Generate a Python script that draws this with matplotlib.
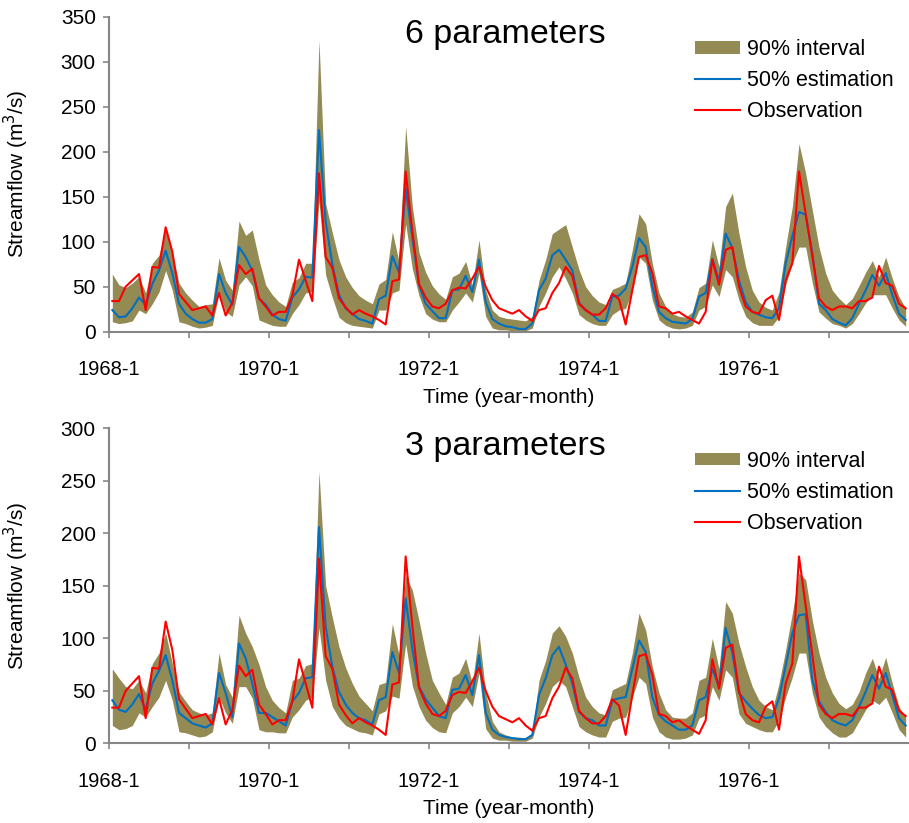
import matplotlib
matplotlib.use('Agg')
import matplotlib.pyplot as plt
import numpy as np

plt.rcParams['font.family'] = ['Liberation Sans', 'DejaVu Sans']

# monthly streamflow 1968-1 .. 1977-12 (m3/s)
obs = [34, 34, 50, 57, 64, 24, 72, 71, 116, 89,
       42, 33, 24, 26, 28, 18, 43, 18, 32, 74,
       64, 70, 37, 28, 18, 22, 22, 40, 80, 57,
       34, 176, 83, 71, 37, 27, 19, 24, 20, 17,
       13, 8, 56, 58, 178, 112, 53, 38, 28, 26,
       31, 46, 49, 48, 59, 72, 50, 35, 26, 23,
       20, 24, 17, 12, 24, 26, 43, 54, 72, 62,
       31, 24, 19, 19, 26, 42, 36, 8, 46, 83,
       85, 65, 28, 26, 20, 22, 17, 13, 9, 22,
       80, 52, 91, 94, 50, 28, 22, 20, 35, 40,
       13, 57, 76, 178, 131, 84, 37, 28, 24, 28,
       28, 26, 34, 34, 38, 73, 54, 51, 31, 26]

# 6 parameters
med6 = [24, 16, 17, 26, 38, 30, 53, 68, 90, 65,
        31, 20, 14, 10, 10, 14, 64, 43, 30, 94,
        83, 68, 37, 30, 19, 14, 12, 38, 47, 61,
        60, 224, 122, 75, 41, 26, 20, 14, 12, 9,
        36, 40, 84, 66, 159, 105, 52, 31, 23, 15,
        15, 46, 47, 62, 44, 80, 33, 14, 9, 6,
        5, 3, 3, 9, 46, 59, 85, 91, 80, 68,
        32, 24, 19, 12, 12, 39, 40, 48, 72, 104,
        94, 50, 22, 15, 11, 10, 9, 14, 39, 43,
        81, 56, 109, 93, 57, 33, 22, 19, 16, 15,
        26, 76, 106, 133, 130, 87, 31, 24, 14, 10,
        7, 15, 31, 46, 63, 51, 65, 41, 20, 13]
hi6 = [64, 52, 49, 54, 61, 43, 76, 85, 113, 87,
       54, 43, 35, 28, 30, 31, 82, 57, 46, 123,
       107, 113, 80, 52, 41, 33, 28, 55, 60, 76,
       76, 324, 142, 110, 80, 61, 49, 40, 35, 31,
       53, 58, 111, 78, 228, 139, 88, 66, 51, 42,
       36, 61, 65, 78, 52, 102, 46, 24, 17, 15,
       14, 13, 12, 17, 57, 80, 109, 114, 119, 94,
       69, 50, 40, 33, 30, 47, 50, 54, 91, 131,
       120, 76, 43, 28, 20, 17, 16, 22, 49, 54,
       102, 72, 139, 154, 109, 72, 46, 33, 27, 24,
       44, 94, 139, 209, 176, 135, 94, 65, 46, 37,
       30, 37, 51, 66, 79, 61, 83, 59, 39, 26]
lo6 = [11, 9, 10, 12, 24, 20, 31, 44, 68, 46,
       11, 9, 6, 4, 5, 7, 43, 22, 17, 52,
       61, 51, 13, 10, 7, 6, 6, 20, 30, 43,
       45, 145, 63, 38, 16, 10, 7, 6, 5, 4,
       24, 24, 43, 46, 120, 70, 40, 20, 14, 11,
       11, 24, 33, 43, 33, 65, 17, 4, 2, 2,
       1, 1, 1, 4, 28, 43, 61, 72, 59, 43,
       19, 13, 9, 7, 7, 19, 24, 26, 46, 83,
       76, 35, 13, 7, 4, 3, 4, 7, 24, 28,
       52, 39, 69, 61, 35, 17, 10, 7, 7, 7,
       17, 52, 76, 94, 94, 54, 22, 15, 9, 7,
       4, 9, 20, 32, 41, 41, 41, 26, 13, 6]

# 3 parameters
med3 = [41, 32, 30, 37, 47, 32, 57, 69, 84, 60,
        29, 24, 19, 17, 15, 19, 67, 48, 25, 95,
        81, 57, 29, 29, 25, 21, 17, 40, 48, 62,
        63, 206, 111, 73, 49, 37, 29, 24, 22, 18,
        41, 44, 87, 67, 138, 90, 54, 42, 34, 26,
        24, 51, 52, 65, 46, 84, 29, 13, 8, 6,
        5, 4, 4, 8, 46, 62, 84, 92, 75, 57,
        30, 24, 22, 17, 17, 41, 43, 44, 71, 98,
        87, 44, 27, 21, 17, 13, 13, 17, 41, 44,
        71, 54, 110, 86, 48, 40, 33, 27, 24, 25,
        43, 74, 105, 122, 123, 60, 40, 30, 22, 19,
        17, 22, 35, 49, 65, 52, 67, 46, 24, 17]
hi3 = [71, 62, 54, 52, 60, 48, 76, 86, 105, 76,
       49, 40, 32, 29, 27, 29, 86, 56, 44, 122,
       105, 92, 75, 54, 41, 34, 29, 60, 62, 74,
       76, 259, 150, 120, 92, 72, 57, 45, 38, 31,
       56, 58, 114, 84, 160, 146, 117, 86, 60, 48,
       37, 63, 67, 81, 57, 105, 48, 21, 11, 8,
       6, 6, 5, 10, 60, 79, 105, 112, 102, 86,
       63, 44, 35, 29, 27, 51, 54, 57, 86, 124,
       108, 73, 48, 32, 25, 24, 24, 29, 60, 63,
       100, 71, 135, 124, 95, 73, 54, 41, 35, 32,
       57, 89, 124, 162, 156, 117, 86, 63, 48, 38,
       33, 37, 49, 67, 81, 62, 82, 57, 35, 25]
lo3 = [17, 13, 14, 17, 29, 25, 35, 44, 60, 41,
       11, 10, 8, 6, 7, 11, 44, 29, 19, 54,
       54, 43, 13, 11, 11, 10, 10, 25, 32, 41,
       44, 110, 60, 35, 24, 17, 14, 11, 10, 8,
       28, 31, 45, 43, 95, 55, 35, 22, 15, 11,
       10, 29, 35, 44, 35, 67, 14, 5, 3, 3,
       2, 2, 2, 5, 25, 38, 54, 60, 54, 35,
       16, 11, 8, 6, 6, 21, 24, 25, 44, 63,
       57, 25, 11, 6, 4, 4, 5, 8, 24, 27,
       54, 41, 70, 63, 28, 19, 16, 13, 11, 11,
       22, 44, 63, 86, 86, 48, 25, 16, 10, 6,
       6, 10, 21, 32, 41, 37, 44, 29, 13, 6]

tick_labels = ['1968-1', '1970-1', '1972-1', '1974-1', '1976-1']

band_c = '#948A54'
blue_c = '#0070C0'
red_c = '#FF0000'
axis_c = '#868686'

x = np.arange(len(obs)) + 0.5

fig = plt.figure(figsize=(9.09, 8.23), dpi=100)
ax1 = fig.add_axes([0.1199, 0.5970, 0.8801, 0.3827])
ax2 = fig.add_axes([0.1199, 0.0968, 0.8801, 0.3827])

panels = [(ax1, lo6, hi6, med6, '6 parameters', 350),
          (ax2, lo3, hi3, med3, '3 parameters', 300)]

for ax, lo, hi, med, title, ymax in panels:
    ax.fill_between(x, lo, hi, color=band_c, lw=0, label='90% interval')
    ax.plot(x, med, color=blue_c, lw=1.5, label='50% estimation')
    ax.plot(x, obs, color=red_c, lw=1.5, label='Observation')

    ax.set_xlim(0, 120)
    ax.set_ylim(0, ymax)
    ax.set_yticks(np.arange(0, ymax + 1, 50))
    ax.set_xticks(np.arange(0, 120, 24))
    ax.set_xticklabels(tick_labels)
    ax.set_xticks(np.arange(12, 120, 24), minor=True)

    for s in ['top', 'right']:
        ax.spines[s].set_visible(False)
    for s in ['left', 'bottom']:
        ax.spines[s].set_color(axis_c)
        ax.spines[s].set_linewidth(1.5)
    ax.tick_params(axis='both', which='both', color=axis_c, width=1.2,
                   length=4.5, direction='out')
    ax.tick_params(axis='x', which='both', pad=16, labelsize=14.5)
    ax.tick_params(axis='y', pad=5, labelsize=15)

    ax.set_ylabel('Streamflow (m$^3$/s)', fontsize=15)
    ax.yaxis.set_label_coords(-0.097, 0.5)
    ax.set_xlabel('Time (year-month)', fontsize=15)
    ax.xaxis.set_label_coords(0.5, -0.178)

    ax.text(0.496, 0.917, title, transform=ax.transAxes, ha='center',
            va='baseline', fontsize=24.5)

    ax.legend(loc='upper left', bbox_to_anchor=(0.7325, 0.929),
              frameon=False, fontsize=15.5, handlelength=2.1,
              handleheight=0.5, handletextpad=0.3, labelspacing=0.47,
              borderpad=0, borderaxespad=0)

fig.savefig('out.png', dpi=100)
